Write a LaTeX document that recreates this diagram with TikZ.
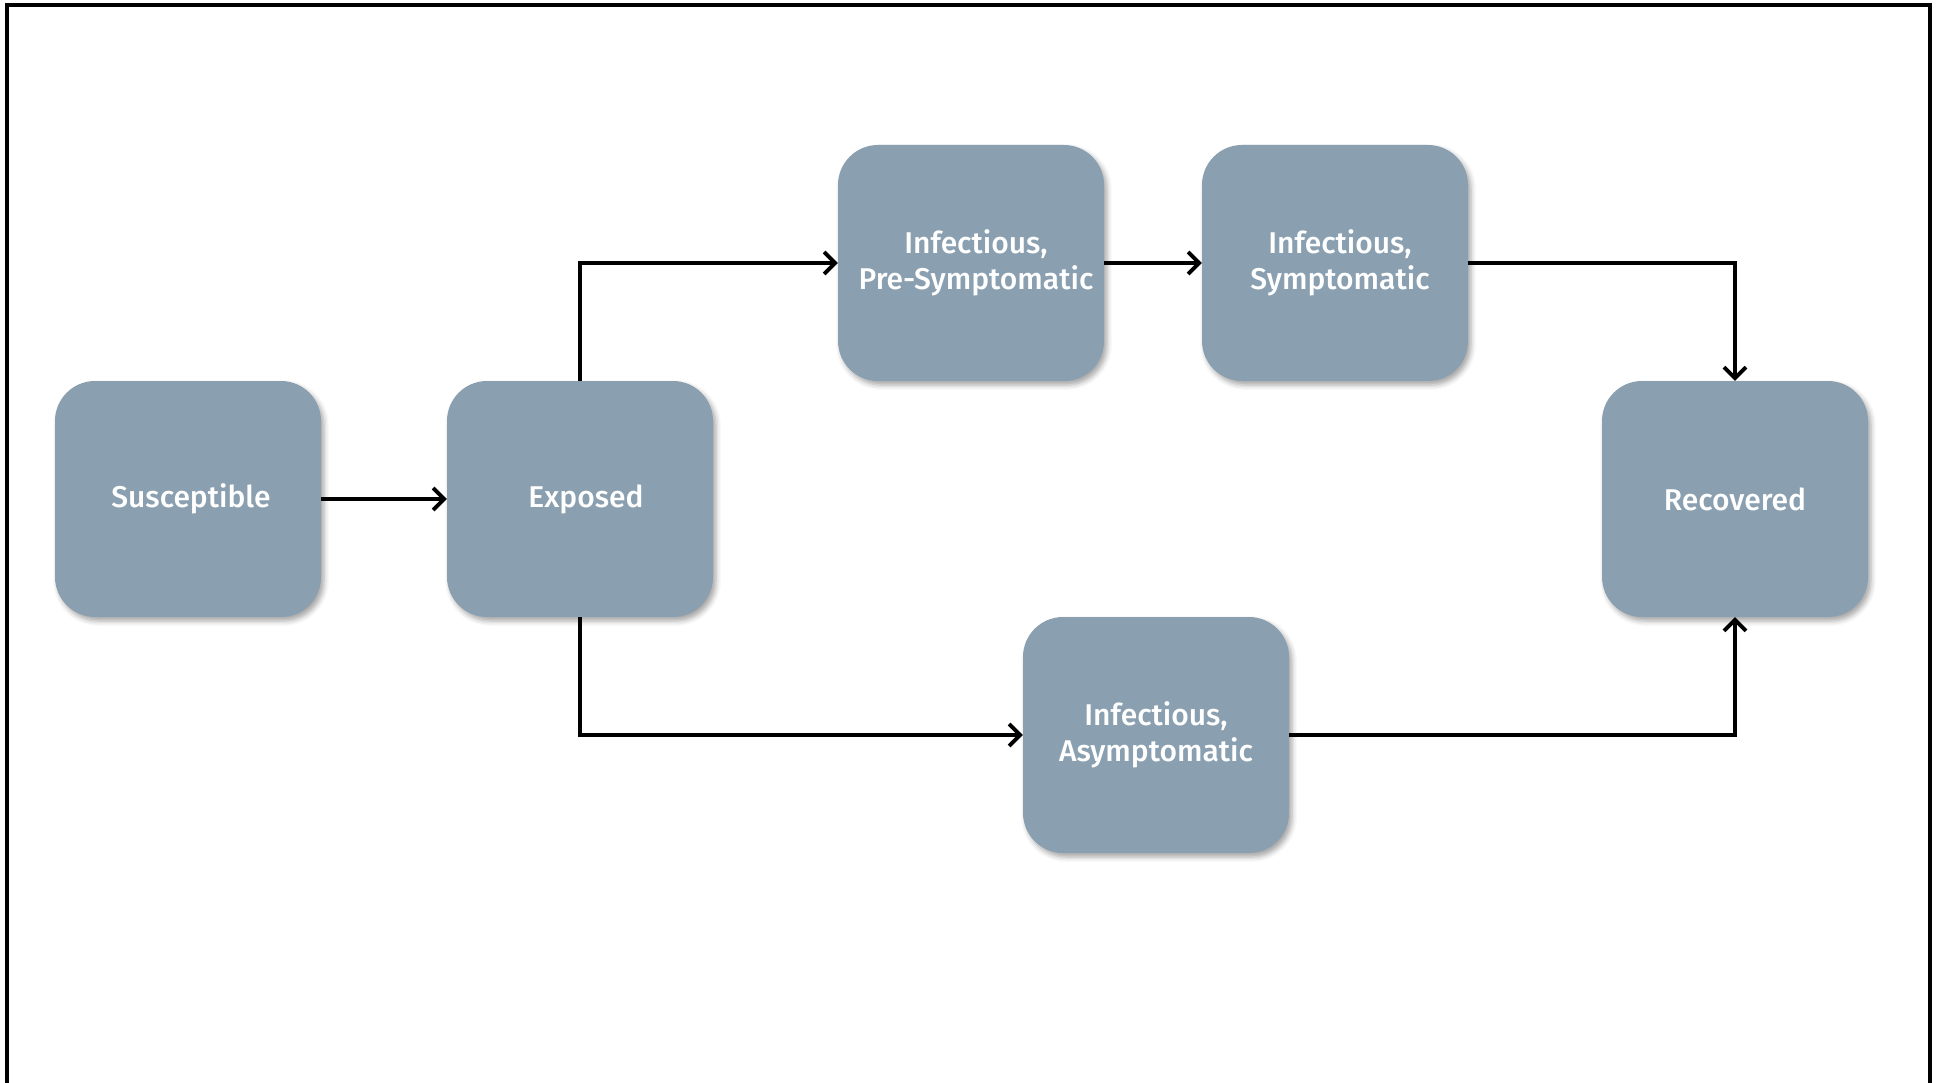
\documentclass[tikz,border=0pt]{standalone}
\usepackage{fontspec}
\setmainfont{Fira Sans Medium}
\usetikzlibrary{arrows.meta,shadows.blur}
\definecolor{boxfill}{HTML}{8AA0B0}
\tikzset{
  statebox/.style={rectangle, rounded corners=40pt, fill=boxfill, text=white,
    minimum width=266pt, minimum height=236pt, align=center, inner sep=0pt,
    font=\fontsize{30}{36}\selectfont,
    blur shadow={shadow xshift=3pt, shadow yshift=-4pt, shadow blur radius=5pt, shadow opacity=35}},
  arr/.style={line width=3.8pt, -{Straight Barb[length=11pt, width=22pt, line width=3.8pt]}},
}
\begin{document}
\begin{tikzpicture}[x=1pt,y=1pt]
\useasboundingbox (0,0) rectangle (1938,-1083);
\draw[line width=3.5pt] (7,-1090) -- (7,-5) -- (1930,-5) -- (1930,-1090);
\node[statebox] (S)  at (188,-499)  {\hspace*{6pt}Susceptible};
\node[statebox] (E)  at (580,-499)  {\hspace*{12pt}Exposed};
\node[statebox] (PS) at (971,-263)  {\hspace*{10pt}Infectious,\\\hspace*{10pt}Pre-Symptomatic};
\node[statebox] (SY) at (1335,-263) {\hspace*{10pt}Infectious,\\\hspace*{10pt}Symptomatic};
\node[statebox] (A)  at (1156,-735) {Infectious,\\Asymptomatic};
\node[statebox] (R)  at (1735,-499) {Recovered};
\draw[arr] (S.east) -- (E.west);
\draw[arr] (E.north) |- (PS.west);
\draw[arr] (PS.east) -- (SY.west);
\draw[arr] (SY.east) -| (R.north);
\draw[arr] (E.south) |- (A.west);
\draw[arr] (A.east) -| (R.south);
\end{tikzpicture}
\end{document}
